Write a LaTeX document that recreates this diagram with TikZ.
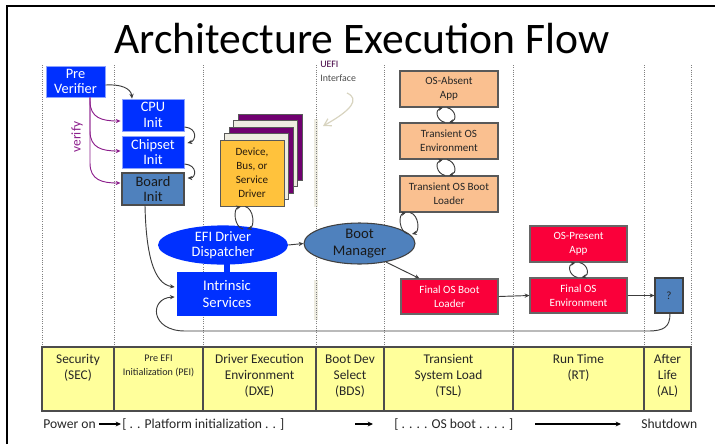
\documentclass[tikz,border=0pt]{standalone}
\usepackage{fontspec}
\setmainfont{Carlito}
\usetikzlibrary{arrows.meta,calc,shapes.geometric}

\definecolor{ublue}{RGB}{0,48,255}
\definecolor{sblue}{RGB}{79,129,189}
\definecolor{peach}{RGB}{250,192,144}
\definecolor{ured}{RGB}{250,0,58}
\definecolor{devyel}{RGB}{255,194,60}
\definecolor{tabyel}{RGB}{255,255,155}
\definecolor{upurple}{RGB}{112,0,112}
\definecolor{beige}{RGB}{238,236,225}
\definecolor{vpurple}{RGB}{140,30,140}
\definecolor{linegray}{RGB}{60,60,60}
\definecolor{paletip}{RGB}{216,212,192}

% two-way loop between an upper point #1 and a lower point #2
\newcommand{\twoway}[2]{%
  \draw[lnk] ($#2+(-1,0)$) .. controls +(-9,-2) and +(-8,2) .. ($#1+(-3,0)$);
  \draw[lnk] ($#1+(1,0)$) .. controls +(9,2) and +(8,-2) .. ($#2+(3,0)$);
}

\begin{document}
\begin{tikzpicture}[x=0.75pt,y=-0.75pt,
  >={Stealth[length=3.6pt,width=3.2pt]},
  sz/.style 2 args={minimum width=#1*0.75pt, minimum height=#2*0.75pt},
  fbig/.style={font=\fontsize{10.8pt}{11.6pt}\selectfont},
  fmid/.style={font=\fontsize{8.3pt}{10.5pt}\selectfont},
  box/.style={rectangle, inner sep=0pt, align=center},
  bluebox/.style={box, fill=ublue, draw=ublue!45!white, line width=0.7pt, text=white, fbig},
  steelbox/.style={box, fill=sblue, draw=black!70, line width=0.9pt, text=black!90, fbig},
  peachbox/.style={box, fill=peach, draw=black!65, line width=0.9pt, text=black!85, fmid},
  redbox/.style={box, fill=ured, draw=black!60, line width=0.8pt, text=white, fmid},
  card/.style={box, sz={64}{66}, draw=black!65, line width=0.7pt},
  lnk/.style={->, linegray, line width=0.7pt},
  vfy/.style={->, vpurple, line width=0.7pt},
  sep/.style={black!50, densely dotted, line width=0.7pt},
  cell/.style={rectangle, fill=tabyel, draw=black!70, line width=0.8pt, inner sep=0pt},
  celltext/.style={inner sep=0pt, align=center, anchor=north, text=black!85,
                   font=\fontsize{10pt}{12pt}\selectfont},
  foot/.style={inner sep=0pt, anchor=base west, text=black!85, font=\fontsize{10.2pt}{11pt}\selectfont},
  footarrow/.style={-{Stealth[length=4pt,width=3.6pt]}, black, line width=1.1pt}
]
\useasboundingbox (0,0) rectangle (715,444);

% slide frame
\draw[black, line width=1.6pt] (7,444) -- (7,6) -- (715,6);

% title
\node[inner sep=0pt, anchor=base, text depth=0pt, font=\fontsize{32.7pt}{34pt}\selectfont] (title) at (362,53)
  {Architecture Execution Flow};

% UEFI interface bar
\draw[beige, line width=2.4pt] (316,119) -- (316,207);
\draw[beige, line width=2.4pt] (316,280) -- (316,320);

% phase separators
\foreach \xx in {42,114,203,316,384,513,644,691}
  \draw[sep] (\xx,65) -- (\xx,347);

% phase table
\node[cell, sz={72}{64}]  (secC) at (78,379) {};
\node[cell, sz={89}{64}]  (peiC) at (158.5,379) {};
\node[cell, sz={113}{64}] (dxeC) at (259.5,379) {};
\node[cell, sz={68}{64}]  (bdsC) at (350,379) {};
\node[cell, sz={129}{64}] (tslC) at (448.5,379) {};
\node[cell, sz={131}{64}] (rtC)  at (578.5,379) {};
\node[cell, sz={47}{64}]  (alC)  at (667.5,379) {};

\node[celltext] (secT) at ($(secC.north)+(0,8)$) {Security\\(SEC)};
\node[celltext, font=\fontsize{7.6pt}{10.5pt}\selectfont] (peiT) at ($(peiC.north)+(0,8)$) {Pre EFI\\Initialization (PEI)};
\node[celltext] (dxeT) at ($(dxeC.north)+(0,8)$) {Driver Execution\\Environment\\(DXE)};
\node[celltext] (bdsT) at ($(bdsC.north)+(0,8)$) {Boot Dev\\Select\\(BDS)};
\node[celltext] (tslT) at ($(tslC.north)+(0,8)$) {Transient\\System Load\\(TSL)};
\node[celltext] (rtT)  at ($(rtC.north)+(0,8)$)  {Run Time\\(RT)};
\node[celltext] (alT)  at ($(alC.north)+(0,8)$)  {After\\Life\\(AL)};

% timeline under the table
\node[foot] (pwr) at (43,428) {Power on};
\node[foot] (plat) at (122,428) {[ . . Platform initialization . . ]};
\node[foot] (osboot) at (394,428) {[ . . . . OS boot . . . . ]};
\node[foot] (shut) at (641,428) {Shutdown};
\coordinate (midA) at (355,424);
\coordinate (midB) at (373,424);
\coordinate (longA) at (535,424);
\coordinate (longB) at (621,424);
\draw[footarrow] ($(pwr.base east)+(3,-4)$) -- ($(plat.base west)+(-1,-4)$);
\draw[footarrow] (midA) -- (midB);
\draw[footarrow] (longA) -- (longB);

% SEC / PEI
\node[bluebox, sz={59}{31}] (prever) at (75.5,81.5) {Pre\\Verifier};
\node[bluebox, sz={62}{32}] (cpu) at (153,115) {CPU\\Init};
\node[bluebox, sz={62}{32}] (chip) at (153,152) {Chipset\\Init};
\node[steelbox, sz={62}{32}] (board) at (153,189) {Board\\Init};

\draw[lnk] (prever.east |- 0,85) .. controls (120,84) and (131,88) .. ($(cpu.north)+(-21,0)$);
\draw[lnk] ($(cpu.east)+(0,12)$) .. controls (198,128) and (196,141) .. ($(chip.east)+(3,-9)$);
\draw[lnk] ($(chip.east)+(0,12)$) .. controls (198,165) and (196,178) .. ($(board.east)+(3,-11)$);

\coordinate (vtop) at ($(prever.south)+(14.5,0)$);
\draw[vfy] (vtop) -- (90,101) .. controls (90,118) and (102,121) .. ($(cpu.west)+(-1,6)$);
\draw[vfy] (vtop) -- (90,131) .. controls (90,148) and (102,151) .. ($(chip.west)+(-1,-1)$);
\draw[vfy] (vtop) -- (90,163) .. controls (90,180) and (102,183) .. ($(board.west)+(-1,-6)$);
\node[inner sep=0pt, rotate=90, text=vpurple, font=\fontsize{10pt}{11pt}\selectfont] (vlabel) at (77,137) {verify};

% DXE
\node[card, fill=upurple] (dev4) at (270,147) {};
\node[card, fill=beige] (dev3) at (265.5,153.5) {};
\node[card, fill=upurple] (dev2) at (261,160) {};
\node[card, fill=beige] (dev1) at (256.5,166.5) {};
\node[card, fill=devyel, text=black!80!brown, font=\fontsize{8.3pt}{10.6pt}\selectfont] (dev) at (252,173)
  {Device,\\Bus, or\\Service\\Driver};

\node[ellipse, inner sep=0pt, sz={130}{34}, fill=ublue, text=white, align=center, fbig] (disp) at (223,245)
  {EFI Driver\\Dispatcher};
\node[box, fill=ublue, sz={100}{44}, text=white, font=\fontsize{11pt}{12.5pt}\selectfont] (intr) at (227,294)
  {Intrinsic\\Services};
\draw[ublue, line width=4.6pt] (intr.north) -- ($(intr.north)+(0,-12)$);

\coordinate (dvT) at ($(dev.south)+(-8,0)$);
\coordinate (dvB) at (244,229);
\twoway{(dvT)}{(dvB)}

\draw[lnk] (board.south -| 145,0) .. controls (146,252) and (153,284) .. ($(intr.west)+(-2,-7)$);

% BDS
\node[ellipse, inner sep=0pt, sz={111}{41}, fill=sblue, draw=black!75, line width=0.8pt, text=black!90,
      align=center, font=\fontsize{11pt}{12.5pt}\selectfont] (bootmgr) at (359.5,243.5) {Boot\\Manager};
\draw[lnk] (disp.east) -- (bootmgr.west);

\node[inner sep=0pt, anchor=north west, align=left, font=\fontsize{7.4pt}{10.5pt}\selectfont] (uefi) at (320,61)
  {\textcolor{upurple!60!black}{UEFI}\\\textcolor{black!70}{Interface}};
\coordinate (uefiA) at (347,93);
\coordinate (uefiB) at (323,126);
\draw[-{Straight Barb[length=5pt,width=6pt]}, paletip, line width=0.9pt]
  (uefiA) .. controls (360,99) and (352,110) .. (uefiB);

% TSL
\node[peachbox, sz={98}{36}] (osabs) at (449,89) {OS-Absent\\App};
\node[peachbox, sz={98}{36}] (tosenv) at (449,141) {Transient OS\\Environment};
\node[peachbox, sz={98}{36}] (tosbl) at (449,194) {Transient OS Boot\\Loader};
\node[redbox, sz={97}{35}] (fosbl) at (449.5,296.5) {Final OS Boot\\Loader};

\coordinate (l1T) at ($(osabs.south)+(-3,0)$);
\coordinate (l1B) at ($(tosenv.north)+(-3,0)$);
\twoway{(l1T)}{(l1B)}
\coordinate (l2T) at ($(tosenv.south)+(-3,0)$);
\coordinate (l2B) at ($(tosbl.north)+(-3,0)$);
\twoway{(l2T)}{(l2B)}
\coordinate (l3T) at ($(tosbl.south)+(-40,0)$);
\coordinate (l3B) at (409,234);
\twoway{(l3T)}{(l3B)}

\draw[lnk] (bootmgr.-35) -- ($(fosbl.north west)+(19,0)$);

% RT
\node[redbox, sz={97}{36}] (osp) at (578.5,244) {OS-Present\\App};
\node[redbox, sz={97}{35}] (fosenv) at (578.5,295.5) {Final OS\\Environment};
\coordinate (l4T) at (osp.south);
\coordinate (l4B) at (fosenv.north);
\twoway{(l4T)}{(l4B)}
\draw[lnk] (fosbl.east) -- (fosenv.west);

% AL
\node[box, fill=sblue, draw=black!75, line width=0.9pt, sz={28}{35}, text=black!85, fmid] (q) at (669,295.5) {?};
\draw[lnk] (fosenv.east) -- (q.west);

% return path from after-life back to the runtime services
\draw[lnk] ($(q.south)+(1,0)$) .. controls (670,327) and (664,331) .. (648,331)
  -- (185,331) .. controls (150,331) and (149,298) .. ($(intr.west)+(-2,3)$);

\end{tikzpicture}
\end{document}
